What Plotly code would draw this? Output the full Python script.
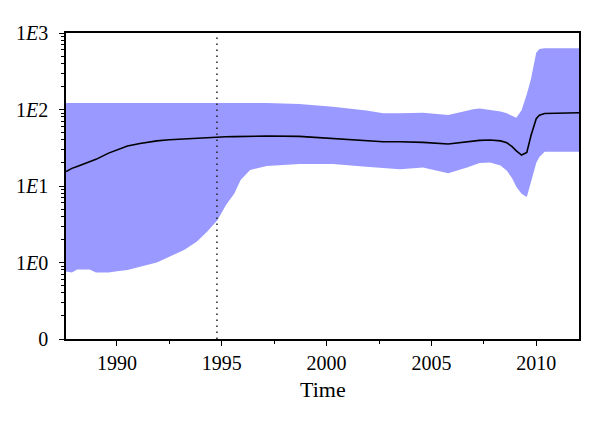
import plotly.graph_objects as go

# time grid (years) shared by the three series
years = [1987.57, 1987.85, 1988.1, 1988.4, 1988.7, 1989.0, 1989.6, 1990.0, 1990.5,
         1991.1, 1991.9, 1992.5, 1993.2, 1993.8, 1994.3, 1994.8, 1995.2, 1995.6,
         1995.9, 1996.35, 1997.15, 1998.7, 2000.3, 2001.9, 2002.7, 2003.5, 2004.6,
         2005.8, 2006.7, 2007.0, 2007.3, 2007.8, 2008.3, 2008.6, 2008.85, 2009.05,
         2009.3, 2009.55, 2009.75, 2010.0, 2010.15, 2010.4, 2011.0, 2012.04]

median = [15.4, 17.0, 18.0, 19.4, 20.9, 22.3, 26.9, 29.5, 33.3,
          35.9, 38.9, 40.3, 41.4, 42.5, 43.2, 43.8, 44.0, 44.2,
          44.4, 44.9, 45.1, 44.5, 42.0, 39.1, 37.9, 37.8, 37.2,
          35.4, 37.6, 38.7, 39.5, 39.9, 38.9, 36.7, 32.7, 28.8,
          25.4, 27.5, 45.7, 75.9, 84.0, 88.7, 90.2, 90.8]

upper = [122, 122, 122, 122, 122, 122, 122, 122, 122,
         122, 122, 122, 122, 122, 122, 122, 122, 122,
         122, 122, 122, 118, 109, 97, 89, 89, 91,
         85, 98, 101, 103, 98, 94, 89, 82, 78,
         98, 158, 251, 550, 617, 631, 631, 631]

lower = [0.76, 0.74, 0.81, 0.81, 0.81, 0.74, 0.74, 0.77, 0.80,
         0.88, 1.0, 1.19, 1.46, 1.87, 2.53, 3.6, 5.65, 8.0,
         12.0, 16.2, 18.2, 19.4, 19.4, 17.9, 17.0, 16.5, 17.5,
         14.7, 17.4, 18.8, 20.0, 20.3, 18.6, 15.8, 12.6, 9.8,
         7.9, 7.2, 11.2, 20.0, 24.0, 28.1, 28.1, 28.1]

marker_year = 1994.77

x_ticks = [1990, 1995, 2000, 2005, 2010]
y_tickvals = [0.1, 1, 10, 100, 1000]
y_ticktext = ["0", "1<i>E</i>0", "1<i>E</i>1", "1<i>E</i>2", "1<i>E</i>3"]

fig = go.Figure()
fig.add_trace(go.Scatter(x=years, y=lower, mode="lines", line=dict(width=0),
                         showlegend=False, hoverinfo="skip"))
fig.add_trace(go.Scatter(x=years, y=upper, mode="lines", line=dict(width=0),
                         fill="tonexty", fillcolor="#9999ff", showlegend=False,
                         hoverinfo="skip"))
fig.add_trace(go.Scatter(x=years, y=median, mode="lines",
                         line=dict(color="black", width=1.6), showlegend=False))
fig.add_trace(go.Scatter(x=[marker_year, marker_year], y=[0.1, 1000], mode="lines",
                         line=dict(color="#222222", width=1.5, dash="1.5px,4.5px"),
                         showlegend=False))

axis_font = dict(family="Liberation Serif", size=20, color="black")
# page body has an 8px margin, so the figure is drawn slightly smaller
fig.update_layout(
    width=592,
    height=416,
    paper_bgcolor="white",
    plot_bgcolor="white",
    margin=dict(l=58, r=21, t=25, b=85),
    font=axis_font,
    xaxis=dict(
        range=[1987.57, 2012.04],
        tickvals=x_ticks,
        ticks="outside",
        ticklen=5,
        tickcolor="black",
        showline=True,
        linecolor="black",
        linewidth=1.5,
        mirror=True,
        showgrid=False,
        zeroline=False,
        automargin=False,
        minor=dict(tickvals=[1992.5, 1997.5, 2002.5, 2007.5], ticks="outside",
                   ticklen=3, tickcolor="black", showgrid=False),
    ),
    yaxis=dict(
        type="log",
        range=[-1, 3],
        tickvals=y_tickvals,
        ticktext=y_ticktext,
        ticks="outside",
        ticklen=5,
        tickcolor="black",
        ticklabelstandoff=7,
        showline=True,
        linecolor="black",
        linewidth=1.5,
        mirror=True,
        showgrid=False,
        zeroline=False,
        automargin=False,
        minor=dict(ticks="outside", ticklen=3, tickcolor="black", dtick="D1",
                   showgrid=False),
    ),
    annotations=[dict(text="Time", xref="paper", yref="paper", x=0.5, y=0,
                      yshift=-50, xanchor="center", yanchor="middle",
                      showarrow=False,
                      font=dict(family="Liberation Serif", size=22, color="black"))],
)

fig.write_html("out.html")
